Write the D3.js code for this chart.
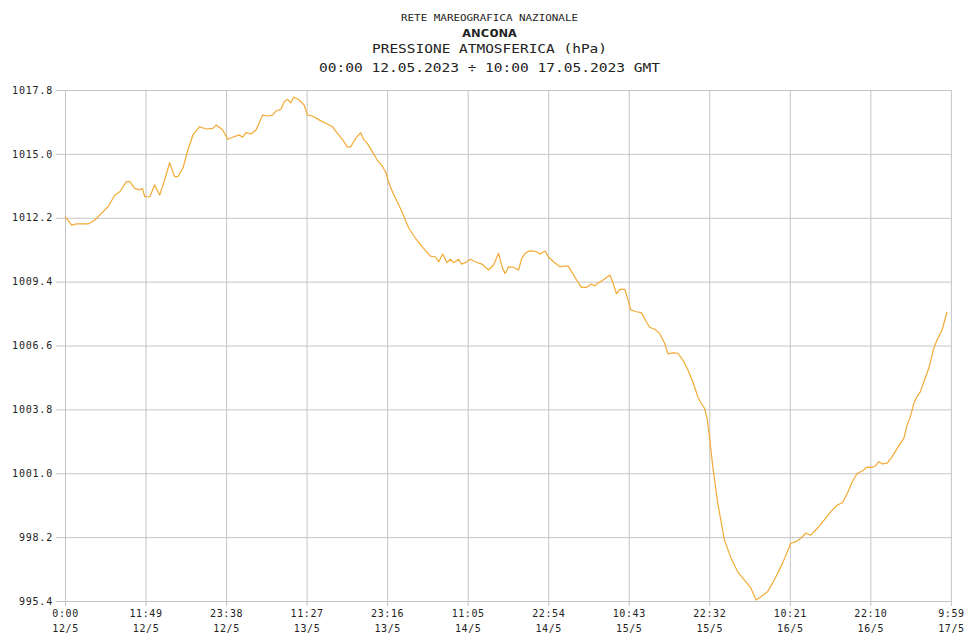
<!DOCTYPE html>
<html>
<head>
<meta charset="utf-8">
<script src="https://cdn.jsdelivr.net/npm/d3@7"></script>
<style>
  html, body { margin: 0; padding: 0; background: #fff; }
  svg { display: block; }
  text { font-family: "DejaVu Sans Mono", "Liberation Mono", monospace; fill: #222; }
</style>
</head>
<body>
<svg id="chart" width="966" height="634"></svg>
<script>
// ---- DATA ----
const titleLines = ["RETE MAREOGRAFICA NAZIONALE", "ANCONA", "PRESSIONE ATMOSFERICA (hPa)", "00:00 12.05.2023 \u00F7 10:00 17.05.2023 GMT"];

// hours since 00:00 12.05.2023 GMT
const hours = [0,0.98,1.71,3.40,4.39,5.37,6.33,7.31,8.04,9.02,9.51,10.23,10.97,11.36,11.70,12.43,13.16,13.89,14.62,15.35,16.09,16.57,17.30,18.03,18.77,19.74,20.72,21.68,22.18,23.15,23.88,24.61,25.59,26.07,26.57,27.30,28.03,29.00,29.73,30.46,30.96,31.69,32.16,32.65,33.15,33.56,34.36,35.09,35.58,36.31,37.29,38.27,39.23,39.97,40.70,41.42,41.92,42.66,43.38,43.87,44.35,45.09,45.81,46.55,47.13,47.53,48.25,48.99,49.72,50.45,51.43,52.39,53.62,54.35,54.83,55.42,56.05,56.54,57.03,57.76,58.16,58.74,59.47,60.20,61.16,62.15,62.88,63.61,64.20,64.59,65.08,65.80,66.54,67.02,67.51,68.24,69.21,69.70,70.44,70.92,71.66,72.63,73.11,73.85,74.32,75.06,75.79,76.52,77.25,77.75,78.13,78.96,79.95,80.43,80.91,81.40,82.14,82.62,83.01,83.83,84.57,85.29,85.79,86.53,87.26,87.98,88.47,89.21,89.93,90.66,91.40,92.12,92.86,93.34,93.84,94.21,94.56,95.05,95.78,96.76,97.73,98.70,99.69,100.65,101.38,102.11,103.09,104.07,105.28,106.50,107.24,107.96,108.69,109.43,110.40,111.38,112.34,113.33,114.05,114.79,115.52,116.24,116.98,117.71,118.44,118.92,119.42,119.91,120.63,121.37,122.10,123.08,123.56,124.05,124.55,125.02,125.51,126.01,126.74,127.47,127.95,128.69,129.42];

// atmospheric pressure, hPa
const pressure = [1012.25,1011.88,1011.93,1011.93,1012.10,1012.40,1012.68,1013.20,1013.34,1013.78,1013.78,1013.49,1013.42,1013.49,1013.12,1013.12,1013.64,1013.20,1013.85,1014.61,1014.00,1014.00,1014.37,1015.17,1015.83,1016.19,1016.09,1016.12,1016.27,1016.05,1015.64,1015.73,1015.83,1015.73,1015.93,1015.87,1016.05,1016.70,1016.66,1016.70,1016.88,1016.95,1017.29,1017.39,1017.24,1017.49,1017.36,1017.14,1016.70,1016.66,1016.49,1016.34,1016.19,1015.90,1015.64,1015.31,1015.31,1015.68,1015.93,1015.61,1015.46,1015.10,1014.73,1014.47,1014.15,1013.71,1013.20,1012.76,1012.25,1011.74,1011.30,1010.93,1010.52,1010.49,1010.27,1010.61,1010.23,1010.38,1010.23,1010.38,1010.17,1010.23,1010.38,1010.27,1010.17,1009.91,1010.13,1010.64,1009.98,1009.76,1010.05,1010.03,1009.91,1010.42,1010.64,1010.76,1010.71,1010.61,1010.74,1010.49,1010.27,1010.05,1010.08,1010.08,1009.84,1009.47,1009.15,1009.15,1009.30,1009.21,1009.33,1009.47,1009.69,1009.33,1008.86,1009.06,1009.06,1008.59,1008.16,1008.08,1008.04,1007.64,1007.40,1007.31,1007.13,1006.70,1006.23,1006.28,1006.26,1005.96,1005.53,1005.01,1004.34,1004.07,1003.85,1003.41,1002.60,1001.29,999.68,998.07,997.27,996.68,996.32,995.96,995.44,995.59,995.81,996.32,997.05,997.93,998.00,998.15,998.37,998.29,998.59,998.95,999.31,999.61,999.71,1000.12,1000.63,1001.00,1001.10,1001.27,1001.26,1001.32,1001.51,1001.41,1001.44,1001.73,1002.09,1002.53,1003.12,1003.48,1004.07,1004.36,1004.58,1005.01,1005.60,1006.48,1006.84,1007.28,1008.08];

const xTickMinutes = [0,709,1418,2127,2836,3545,4254,4963,5672,6381,7090,7799];
const xTickTimes = ["0:00","11:49","23:38","11:27","23:16","11:05","22:54","10:43","22:32","10:21","22:10","9:59"];
const xTickDates = ["12/5","12/5","12/5","13/5","13/5","14/5","14/5","15/5","15/5","16/5","16/5","17/5"];
const yTicks = [995.4,998.2,1001.0,1003.8,1006.6,1009.4,1012.2,1015.0,1017.8];
const spanHours = 130;

// ---- LAYOUT ----
const W = 966, H = 634;
const m = {left: 65, right: 15, top: 90, bottom: 33};
const pw = W - m.left - m.right, ph = H - m.top - m.bottom;
const gridColor = "#c4c4c4";
const lineColor = "#f2aa35";

const svg = d3.select("#chart");

// titles
const cx = 489.5;
const titleSpec = [
  {y: 21, size: 8.5, weight: "normal", len: 177},
  {y: 37, size: 11, weight: "bold", len: 55},
  {y: 53, size: 11.5, weight: "normal", len: 235},
  {y: 72, size: 11.5, weight: "normal", len: 341}
];
svg.append("g").selectAll("text").data(titleLines).join("text")
  .attr("x", cx)
  .attr("y", (d, i) => titleSpec[i].y)
  .attr("text-anchor", "middle")
  .attr("font-size", (d, i) => titleSpec[i].size)
  .attr("font-weight", (d, i) => titleSpec[i].weight)
  .attr("textLength", (d, i) => titleSpec[i].len)
  .attr("lengthAdjust", "spacingAndGlyphs")
  .text(d => d);

const g = svg.append("g").attr("transform", `translate(${m.left},${m.top})`);

const x = d3.scaleLinear().domain([0, spanHours]).range([0, pw]);
const y = d3.scaleLinear().domain([995.4, 1017.8]).range([ph, 0]);

const labelFont = '"DejaVu Sans Mono", monospace';

// y axis + horizontal grid
const yAxis = g.append("g")
  .call(d3.axisLeft(y).tickValues(yTicks).tickSizeInner(-pw).tickSizeOuter(0).tickPadding(12).tickFormat(d3.format(".1f")));
yAxis.select(".domain").remove();
yAxis.selectAll(".tick line").attr("x1", -9).attr("stroke", gridColor);
yAxis.selectAll(".tick text").attr("font-size", 10).attr("letter-spacing", 0.8).attr("fill", "#222")
  .style("font-family", labelFont);

// x axis + vertical grid
const xAxis = g.append("g").attr("transform", `translate(0,${ph})`)
  .call(d3.axisBottom(x).tickValues(xTickMinutes.map(v => v / 60)).tickSizeInner(-ph).tickSizeOuter(0).tickFormat((d, i) => xTickTimes[i]));
xAxis.select(".domain").remove();
xAxis.selectAll(".tick line").attr("y1", 5).attr("stroke", gridColor);
xAxis.selectAll(".tick text")
  .attr("y", 16).attr("dy", 0)
  .attr("font-size", 10).attr("letter-spacing", 0.6).attr("fill", "#222")
  .style("font-family", labelFont);
xAxis.selectAll(".tick").append("text")
  .attr("y", 31)
  .attr("text-anchor", "middle")
  .attr("font-size", 10).attr("letter-spacing", 0.6).attr("fill", "#222")
  .style("font-family", labelFont)
  .text((d, i) => xTickDates[i]);

// data line
const pts = hours.map((h, i) => [h, pressure[i]]);
g.append("path")
  .datum(pts)
  .attr("fill", "none")
  .attr("stroke", lineColor)
  .attr("stroke-width", 1.2)
  .attr("stroke-linejoin", "round")
  .attr("d", d3.line().x(d => x(d[0])).y(d => y(d[1])));
</script>
</body>
</html>
